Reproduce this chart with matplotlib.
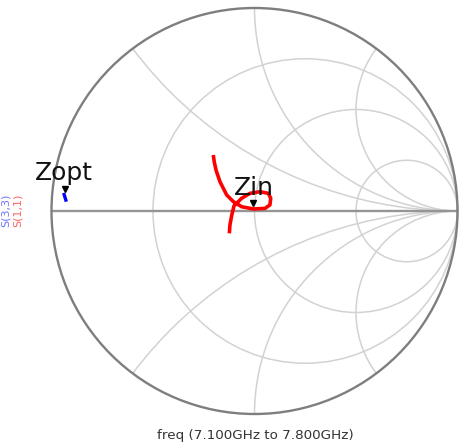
import numpy as np
import matplotlib
matplotlib.use("Agg")
import matplotlib.pyplot as plt
from matplotlib.patches import Circle

# smith chart grid values
r_values = [1 / 3, 1, 3]
x_values = [0.5, 1, 2]

# S(1,1) trace (reflection coeff, real / imag), 7.1GHz -> 7.8GHz
s11_re = [-0.203, -0.198, -0.189, -0.170, -0.137, -0.104, -0.063, -0.006, 0.052, 0.076,
          0.080, 0.068, 0.027, -0.022, -0.063, -0.101, -0.112, -0.121, -0.124]
s11_im = [0.276, 0.240, 0.200, 0.144, 0.079, 0.046, 0.021, 0.010, 0.013, 0.030,
          0.063, 0.087, 0.095, 0.087, 0.063, 0.025, -0.020, -0.069, -0.110]

# S(3,3) trace
s33_re = [-0.940, -0.934, -0.927]
s33_im = [0.089, 0.069, 0.046]

# markers
marker_names = ["Zin", "Zopt"]
marker_re = [-0.006, -0.933]
marker_im = [0.037, 0.108]

W, H = 459, 447
cx, cy, R = 254.5, 211, 203

fig = plt.figure(figsize=(W / 100, H / 100), dpi=100)
ax = fig.add_axes([0, 0, 1, 1])
ax.set_xlim(-cx / R, (W - cx) / R)
ax.set_ylim((cy - H) / R, cy / R)
ax.axis("off")

grid_col = "#d2d2d2"
outer = Circle((0, 0), 1, fill=False, ec="#7e7e7e", lw=1.7, zorder=3)
ax.add_patch(outer)

for r in r_values:
    ax.add_patch(Circle((r / (1 + r), 0), 1 / (1 + r), fill=False, ec=grid_col, lw=1.1, zorder=1))

clip = Circle((0, 0), 1, transform=ax.transData)
for x in x_values:
    for s in (1, -1):
        c = Circle((1, s / x), 1 / x, fill=False, ec=grid_col, lw=1.1, zorder=1)
        ax.add_patch(c)
        c.set_clip_path(clip)

ax.plot([-1, 1], [0, 0], color="#959595", lw=1.7, zorder=2)

# traces
ax.plot(s11_re, s11_im, color="red", lw=2.6, zorder=4, solid_capstyle="butt",
        solid_joinstyle="round")
ax.plot(s33_re, s33_im, color="blue", lw=2.4, zorder=4, solid_capstyle="butt")

# markers + labels
ax.plot(marker_re, marker_im, "v", color="black", ms=5, zorder=5)
label_dx = [-0.098, -0.148]
label_dy = [0.042, 0.045]
for name, mx, my, dx, dy in zip(marker_names, marker_re, marker_im, label_dx, label_dy):
    ax.text(mx + dx, my + dy, name, fontsize=18, color="#111111",
            ha="left", va="baseline", zorder=6)

fig.text(5.5 / W, 1 - 210 / H, "S(3,3)", color="#7070ff", fontsize=8,
         rotation=90, ha="center", va="center")
fig.text(17.5 / W, 1 - 210 / H, "S(1,1)", color="#ff6060", fontsize=8,
         rotation=90, ha="center", va="center")

fig.text(255 / W, 1 - 436 / H, "freq (7.100GHz to 7.800GHz)", color="#333333",
         fontsize=9.7, ha="center", va="center")

fig.savefig("out.png", dpi=100, facecolor="white")
